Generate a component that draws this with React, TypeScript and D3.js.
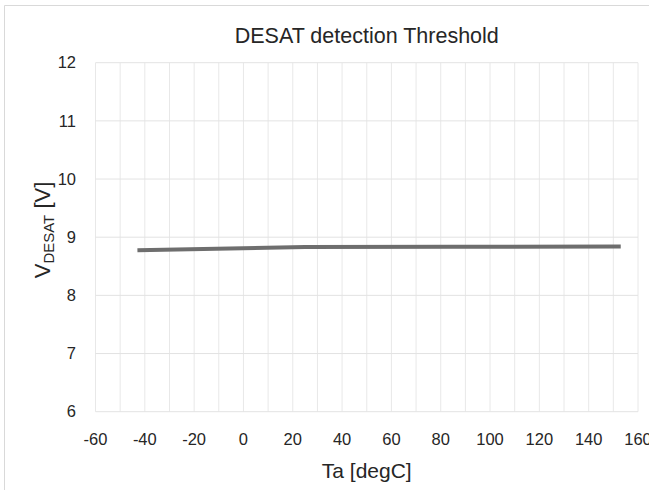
import React from "react";
import * as d3 from "d3";

const temps = [-43, 25, 85, 153];
const vdesat = [8.775, 8.83, 8.835, 8.84];
const xTicks = [-60, -40, -20, 0, 20, 40, 60, 80, 100, 120, 140, 160];
const yTicks = [6, 7, 8, 9, 10, 11, 12];
const title = "DESAT detection Threshold";
const xTitle = "Ta [degC]";

const W = 649;
const H = 490;
const L = 95.5, R = 638, T = 62.7, B = 411.7;
const FONT = "'Liberation Sans', Arial, sans-serif";
const TXT = "#262626";

export default function App() {
  const x = d3.scaleLinear().domain([-60, 160]).range([L, R]);
  const y = d3.scaleLinear().domain([6, 12]).range([B, T]);
  const minor = d3.range(-60, 161, 10);
  const pts = temps.map((t, i) => [t, vdesat[i]] as [number, number]);
  const line = d3.line<[number, number]>().x(d => x(d[0])).y(d => y(d[1]));

  return (
    <svg width={W} height={H} style={{ position: "absolute", left: 0, top: 0, background: "#fff" }}>
      <rect x={0} y={0} width={W} height={H} fill="#fff" />
      <line x1={4.5} y1={5.5} x2={W} y2={5.5} stroke="#d9d9d9" strokeWidth={1} />
      <line x1={4.5} y1={5.5} x2={4.5} y2={H} stroke="#d9d9d9" strokeWidth={1} />
      {minor.map(v => (
        <line key={"vx" + v} x1={x(v)} x2={x(v)} y1={T} y2={B} stroke="#e8e8e8" strokeWidth={1} />
      ))}
      {yTicks.map(v => (
        <line key={"hy" + v} x1={L} x2={R} y1={y(v)} y2={y(v)} stroke="#e3e3e3" strokeWidth={1} />
      ))}
      <path d={line(pts) || ""} fill="none" stroke="#6e6e6e" strokeWidth={4} strokeLinecap="butt" strokeLinejoin="round" />
      {yTicks.map(v => (
        <text key={"yl" + v} x={76} y={y(v)} dy="0.35em" textAnchor="end" fontFamily={FONT} fontSize={16.5} fill={TXT}>
          {v}
        </text>
      ))}
      {xTicks.map(v => (
        <text key={"xl" + v} x={x(v)} y={445} textAnchor="middle" fontFamily={FONT} fontSize={16.5} fill={TXT}>
          {v}
        </text>
      ))}
      <text x={(L + R) / 2} y={43} textAnchor="middle" fontFamily={FONT} fontSize={21.5} fill={TXT}>
        {title}
      </text>
      <text x={(L + R) / 2} y={478} textAnchor="middle" fontFamily={FONT} fontSize={21} fill={TXT}>
        {xTitle}
      </text>
      <text transform={`translate(50,230) rotate(-90)`} textAnchor="middle" fontFamily={FONT} fontSize={22} fill={TXT}>
        <tspan>V</tspan>
        <tspan fontSize={15} dy={4}>DESAT</tspan>
        <tspan dy={-4}> [V]</tspan>
      </text>
    </svg>
  );
}
